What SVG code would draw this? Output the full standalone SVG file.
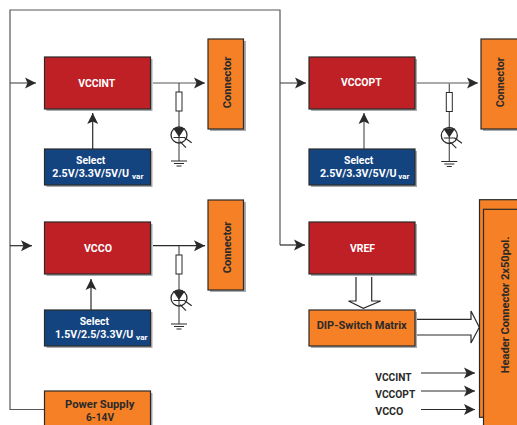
<svg xmlns="http://www.w3.org/2000/svg" width="517" height="425" viewBox="0 0 517 425">
<style>
text{font-family:Roboto,"Open Sans","Liberation Sans",sans-serif;font-weight:700;font-size:11px;text-anchor:middle}
text.s{font-size:7.500px}
.w{fill:#fff}.d{fill:#2b2a29}
.box{stroke:#2b2a29;stroke-width:1.2}
.shadow{fill:#a9abae}
.red{fill:#bf2026}.blue{fill:#134480}.or{fill:#f58025}
.ln{fill:none;stroke:#555658;stroke-width:1.2}
.lk{fill:none;stroke:#2b2a29;stroke-width:1.2}
.ar{fill:#fff;stroke:#2b2a29;stroke-width:1.2}
</style>
<defs>
<marker id="a" markerUnits="userSpaceOnUse" markerWidth="12" markerHeight="12" refX="11" refY="6" orient="auto"><path d="M0 .5L11 6L0 11.500L2.500 6Z" fill="#2b2a29"/></marker>
<g id="led">
<path class="ln" d="M0 0V9M0 28V78"/>
<rect x="-3" y="9" width="6" height="19" fill="#fff" stroke="#2b2a29"/>
<circle cx="0" cy="52" r="8" fill="none" stroke="#2b2a29" stroke-width="1.300"/>
<path d="M-6 45H6L0 54Z" fill="#2b2a29"/>
<path class="lk" d="M-5.500 54.500H5.500M1 58.700L7 64.700M5 54.300L12.700 59.700"/>
<path class="lk" d="M-8 78H8M-5 80.500H5M-2.500 83H2.500" stroke-width="1.300"/>
</g>
</defs>
<g id="connectors">
<path class="ln" d="M44 409.500H10V10H280V245"/>
<path class="ln" d="M10 83H36" marker-end="url(#a)"/>
<path class="lk" d="M10 245.700H32" marker-end="url(#a)"/>
<path class="ln" d="M280 83H306" marker-end="url(#a)"/>
<path class="lk" d="M280 245H305" marker-end="url(#a)"/>
<path class="ln" d="M153 83H205" marker-end="url(#a)"/>
<path class="lk" d="M153 245.700H205" marker-end="url(#a)"/>
<path class="ln" d="M417 83H478" marker-end="url(#a)"/>
<path class="lk" d="M92.700 149V113" marker-end="url(#a)"/>
<path class="lk" d="M91 310V279" marker-end="url(#a)"/>
<path class="ln" d="M364 149V113" marker-end="url(#a)"/>
<use href="#led" x="179" y="83"/>
<use href="#led" x="179" y="246"/>
<use href="#led" x="449.300" y="83.500"/>
<path class="ar" d="M356 277V301H348.500L363.300 308.300L380.700 301H371.700V277"/>
<path class="ar" d="M417 319.300H471V311L479.300 327.300L471 343V335H417"/>
<path class="lk" d="M421 373H475" marker-end="url(#a)"/>
<path class="lk" d="M421 391H475" marker-end="url(#a)"/>
<path class="lk" d="M421 409.500H475" marker-end="url(#a)"/>
</g>
<g id="vccint"><rect class="shadow" x="46.500" y="59" width="106" height="52"/><rect class="box red" x="44.500" y="57" width="106" height="52"/><text class="w" x="96.700" y="87" textLength="37" lengthAdjust="spacingAndGlyphs">VCCINT</text></g>
<g id="select1"><rect class="shadow" x="46.500" y="151" width="106" height="36"/><rect class="box blue" x="44.500" y="149" width="106" height="36"/><text class="w" x="90.700" y="164" textLength="29.300" lengthAdjust="spacingAndGlyphs">Select</text><text class="w" x="90.700" y="177" textLength="76.700" lengthAdjust="spacingAndGlyphs">2.5V/3.3V/5V/U</text><text class="w s" x="137.700" y="178.500" textLength="11.300" lengthAdjust="spacingAndGlyphs">var</text></g>
<g id="connector1"><rect class="shadow" x="210" y="41" width="36" height="90"/><rect class="box or" x="208" y="39" width="35.500" height="90"/><text class="d" transform="translate(230.700 82.500) rotate(-90)" textLength="51.700" lengthAdjust="spacingAndGlyphs">Connector</text></g>
<g id="vcco"><rect class="shadow" x="46.500" y="224" width="106" height="52"/><rect class="box red" x="44.500" y="222" width="106" height="52"/><text class="w" x="98" y="252" textLength="28" lengthAdjust="spacingAndGlyphs">VCCO</text></g>
<g id="select2"><rect class="shadow" x="46.500" y="312" width="106" height="36"/><rect class="box blue" x="44.500" y="310" width="106" height="36"/><text class="w" x="94.300" y="325" textLength="29.300" lengthAdjust="spacingAndGlyphs">Select</text><text class="w" x="94.200" y="338" textLength="78.300" lengthAdjust="spacingAndGlyphs">1.5V/2.5/3.3V/U</text><text class="w s" x="141.800" y="339.500" textLength="11.500" lengthAdjust="spacingAndGlyphs">var</text></g>
<g id="connector2"><rect class="shadow" x="210" y="202" width="36" height="90"/><rect class="box or" x="208" y="200" width="35.500" height="90"/><text class="d" transform="translate(230.700 247.500) rotate(-90)" textLength="51.700" lengthAdjust="spacingAndGlyphs">Connector</text></g>
<g id="power"><rect class="shadow" x="46.500" y="393" width="106" height="36"/><rect class="box or" x="44.500" y="391" width="106" height="36"/><text class="d" x="99.700" y="407.500" textLength="69.300" lengthAdjust="spacingAndGlyphs">Power Supply</text><text class="d" x="100" y="420.500" textLength="28" lengthAdjust="spacingAndGlyphs">6-14V</text></g>
<g id="vccopt"><rect class="shadow" x="311" y="59" width="106" height="52"/><rect class="box red" x="309" y="57" width="106" height="52"/><text class="w" x="361.300" y="86" textLength="40.700" lengthAdjust="spacingAndGlyphs">VCCOPT</text></g>
<g id="select3"><rect class="shadow" x="311" y="151" width="106" height="36"/><rect class="box blue" x="309" y="149" width="106" height="36"/><text class="w" x="358.700" y="164" textLength="29.300" lengthAdjust="spacingAndGlyphs">Select</text><text class="w" x="358.300" y="177" textLength="76.700" lengthAdjust="spacingAndGlyphs">2.5V/3.3V/5V/U</text><text class="w s" x="403.800" y="178.500" textLength="11" lengthAdjust="spacingAndGlyphs">var</text></g>
<g id="connector3"><rect class="shadow" x="483" y="41" width="36" height="90"/><rect class="box or" x="481" y="39" width="37" height="90"/><text class="d" transform="translate(504 82.300) rotate(-90)" textLength="50" lengthAdjust="spacingAndGlyphs">Connector</text></g>
<g id="vref"><rect class="shadow" x="311" y="224" width="106" height="52"/><rect class="box red" x="309" y="222" width="106" height="52"/><text class="w" x="362.500" y="252" textLength="25" lengthAdjust="spacingAndGlyphs">VREF</text></g>
<g id="dip"><rect class="shadow" x="311" y="312" width="106" height="36"/><rect class="box or" x="309" y="310" width="106" height="36"/><text class="d" x="361.700" y="329.300" textLength="90" lengthAdjust="spacingAndGlyphs">DIP-Switch Matrix</text></g>
<g id="header"><rect class="box or" x="479.500" y="199.700" width="40" height="217.600"/><rect class="box or" x="483.500" y="209.300" width="36" height="220"/><text class="d" transform="translate(509.300 305) rotate(-90)" textLength="136.700" lengthAdjust="spacingAndGlyphs">Header Connector 2x50pol.</text></g>
<g id="labels"><text class="d" x="393.500" y="381" textLength="36.300" lengthAdjust="spacingAndGlyphs">VCCINT</text><text class="d" x="395.300" y="398.300" textLength="40" lengthAdjust="spacingAndGlyphs">VCCOPT</text><text class="d" x="389.300" y="415" textLength="28" lengthAdjust="spacingAndGlyphs">VCCO</text></g>
</svg>
